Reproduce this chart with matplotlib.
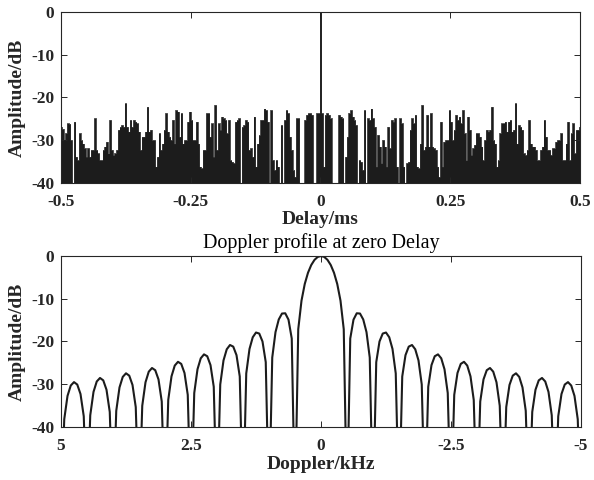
import numpy as np
import matplotlib.pyplot as plt

plt.rcParams['font.family'] = ['Liberation Serif', 'DejaVu Serif']
plt.rcParams['axes.unicode_minus'] = False

# delay profile (dB), left of zero delay, right of zero delay
delay_left = [
    -26.9, -27.4, -30.0, -28.4, -26.1, -26.2, -30.0, -45.0, -25.7, -33.9,
    -34.7, -28.4, -30.0, -30.8, -31.9, -33.9, -31.9, -33.9, -32.3, -32.3,
    -24.9, -32.3, -33.1, -34.7, -34.7, -32.3, -31.5, -30.4, -33.1, -25.3,
    -32.3, -33.5, -33.1, -32.3, -27.6, -26.9, -26.5, -26.9, -21.4, -26.9,
    -28.0, -25.3, -26.9, -25.3, -25.7, -26.1, -28.0, -32.3, -29.2, -29.2,
    -28.0,
    -22.2, -28.0, -27.6, -30.0, -30.0, -36.2, -33.9, -28.4, -32.3, -30.8,
    -27.6, -23.7, -28.0, -29.2, -30.0, -25.3, -30.8, -23.0, -23.3, -29.2,
    -23.7, -30.8, -30.0, -30.0, -25.7, -23.3, -25.3, -30.0, -30.0, -25.7,
    -30.8, -36.2, -36.6, -32.3, -32.3, -23.7, -23.7, -29.2, -26.1, -33.9,
    -21.8, -32.3, -26.1, -27.6, -24.5, -24.9, -25.3, -28.4, -25.3, -34.7,
    -35.1, -35.4,
    -25.7, -25.3, -24.9, -45.0, -26.9, -26.5, -25.3, -25.7, -32.3, -31.9,
    -33.9, -24.5, -36.2, -30.8, -28.8, -25.3, -25.3, -22.6, -23.0, -25.7,
    -45.0, -23.0, -34.7, -37.0, -34.7, -36.2, -45.0, -26.5, -45.0, -25.3,
    -23.0, -23.7, -29.2, -32.3, -37.0, -38.6, -24.9, -24.9, -45.0, -45.0,
    -45.0, -25.3, -24.1, -23.7, -23.7, -24.1, -45.0, -45.0, -23.7, -23.7,
]
delay_peak = 0.0
delay_right = [
    -23.7, -36.2, -24.1, -23.7, -24.1, -24.9, -45.0, -45.0, -45.0, -45.0,
    -24.1, -24.5, -24.9, -45.0, -33.9, -29.2, -23.7, -23.0, -24.5, -25.3,
    -26.5, -45.0, -34.7, -35.1, -37.0, -23.0, -45.0, -24.9, -25.3, -22.6,
    -24.9, -26.9, -36.2, -28.8, -31.5, -35.4, -30.0, -31.5, -36.2, -26.9,
    -31.9, -25.3, -25.7, -24.9, -36.2, -45.0, -24.9, -26.1, -36.2, -45.0,
    -35.4, -35.1,
    -27.6, -24.9, -26.1, -24.1, -36.2, -36.6, -30.8, -21.8, -32.3, -31.5,
    -24.1, -31.5, -23.7, -31.5, -31.9, -32.3, -36.2, -38.6, -25.7, -36.2,
    -30.4, -30.0, -30.0, -23.0, -25.7, -30.0, -27.6, -24.1, -25.3, -24.5,
    -26.1, -23.0, -28.4, -34.7, -24.5, -27.6, -33.5, -31.9, -31.1, -28.4,
    -28.4, -29.2, -31.5, -34.7, -30.0, -27.6, -28.0, -27.6, -22.2, -30.0,
    -30.8, -36.2, -34.7,
    -28.4, -26.1, -26.1, -25.7, -28.0, -25.7, -25.3, -28.0, -27.6, -21.4,
    -30.8, -26.5, -26.9, -27.6, -33.1, -33.5, -32.3, -25.3, -30.8, -31.5,
    -31.5, -32.3, -34.7, -34.7, -32.3, -31.5, -25.3, -29.2, -32.3, -32.3,
    -33.5, -31.9, -31.9, -30.4, -30.0, -30.0, -28.4, -34.7, -34.7, -30.8,
    -25.7, -34.7, -28.4, -26.1, -33.1, -27.6, -27.6, -26.9,
]

# Doppler cut at zero delay (dB), 0 to 5 kHz in 0.0625 kHz steps; nulls below -40
doppler_half = [
    0.0, -0.22, -0.91, -2.11, -3.92, -6.55, -10.45, -17.13, -60.0,
    -19.31, -14.89, -13.40, -13.46, -14.85, -17.81, -23.75, -60.0,
    -24.83, -20.00, -18.14, -17.90, -19.01, -21.74, -27.46, -60.0,
    -28.18, -23.19, -21.20, -20.82, -21.82, -24.43, -30.05, -60.0,
    -30.59, -25.52, -23.45, -23.01, -23.93, -26.49, -32.05, -60.0,
    -32.48, -27.36, -25.24, -24.75, -25.63, -28.15, -33.67, -60.0,
    -34.03, -28.87, -26.72, -26.20, -27.06, -29.54, -35.03, -60.0,
    -35.34, -30.16, -27.99, -27.44, -28.28, -30.74, -36.21, -60.0,
    -36.48, -31.28, -29.09, -28.53, -29.35, -31.79, -37.25, -60.0,
    -37.49, -32.28, -30.07, -29.50, -30.30, -32.73, -38.18, -60.0,
]
doppler_step = 0.0625

ink = '#1c1c1c'
text_col = '#262626'

delay_db = np.array(delay_left + [delay_peak] + delay_right)
delay_ms = np.linspace(-0.5, 0.5, len(delay_db))

half = np.array(doppler_half)
doppler_db = np.concatenate([half[:0:-1], half])
doppler_khz = np.arange(-(len(half) - 1), len(half)) * doppler_step

fig = plt.figure(figsize=(5.94, 4.8), dpi=100)
ax1 = fig.add_axes([0.1027, 0.619, 0.8737, 0.356])
ax2 = fig.add_axes([0.1027, 0.1104, 0.8754, 0.3563])

ax1.fill_between(delay_ms, delay_db, -60, step='mid', color=ink, lw=0)
ax1.step(delay_ms, delay_db, where='mid', color=ink, lw=0.5)
ax1.set_xlim(-0.5, 0.5)
ax1.set_ylim(-40, 0)
ax1.set_xticks([-0.5, -0.25, 0, 0.25, 0.5])
ax1.set_xticklabels(['-0.5', '-0.25', '0', '0.25', '0.5'])
ax1.set_xlabel('Delay/ms', fontsize=14, fontweight='bold', color=text_col, labelpad=1)

ax2.plot(doppler_khz, doppler_db, color=ink, lw=1.5)
ax2.set_xlim(5, -5)
ax2.set_ylim(-40, 0)
ax2.set_xticks([5, 2.5, 0, -2.5, -5])
ax2.set_xticklabels(['5', '2.5', '0', '-2.5', '-5'])
ax2.set_xlabel('Doppler/kHz', fontsize=14, fontweight='bold', color=text_col, labelpad=1)
ax2.set_title('Doppler profile at zero Delay', fontsize=14.5, color='k', pad=6)

for ax in (ax1, ax2):
    ax.set_yticks([-40, -30, -20, -10, 0])
    ax.set_yticklabels(['-40', '-30', '-20', '-10', '0'])
    ax.set_ylabel('Amplitude/dB', fontsize=14, fontweight='bold', color=text_col, labelpad=4)
    ax.tick_params(direction='in', top=True, right=True, length=4, width=0.7,
                   labelsize=12.5, colors=text_col, labelcolor=text_col)
    ax.tick_params(axis='x', pad=8)
    ax.tick_params(axis='y', pad=5)
    for lab in ax.get_xticklabels() + ax.get_yticklabels():
        lab.set_fontweight('bold')
    for sp in ax.spines.values():
        sp.set_linewidth(0.8)
        sp.set_color(text_col)

fig.savefig('out.png', dpi=100)
